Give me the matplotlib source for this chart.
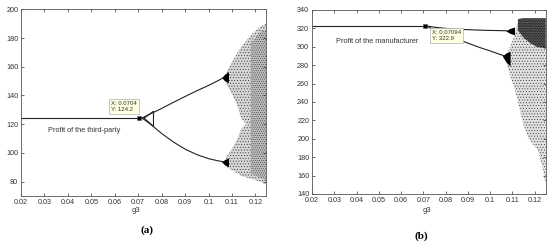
import matplotlib
matplotlib.use("Agg")
import matplotlib.pyplot as plt

plt.rcParams['font.family'] = ['Liberation Sans', 'DejaVu Sans']
plt.rcParams['hatch.linewidth'] = 0.35

# ---------------- Panel (a): profit of the third-party ----------------
a_flat_x = [0.02, 0.0704]
a_flat_y = [124.2, 124.2]
a_up_x = [0.0704, 0.072, 0.074, 0.077, 0.080, 0.085, 0.090, 0.095, 0.100, 0.104, 0.1065]
a_up_y = [124.2, 124.6, 126.3, 128.6, 131.0, 135.2, 139.3, 143.3, 147.0, 150.3, 152.5]
a_lo_x = [0.0704, 0.072, 0.074, 0.077, 0.080, 0.085, 0.090, 0.095, 0.100, 0.104, 0.1065]
a_lo_y = [124.2, 123.8, 121.5, 117.6, 113.5, 107.6, 102.6, 98.8, 96.0, 94.5, 93.8]
a_tri_x = [0.0725, 0.0765, 0.0765, 0.0725]
a_tri_y = [124.2, 129.0, 118.5, 124.2]
# dense wedges (blobs) at the second bifurcation
a_blobU_x = [0.1055, 0.107, 0.1085]
a_blobU_lo = [152.5, 150.0, 149.0]
a_blobU_hi = [152.5, 155.0, 156.5]
a_blobL_x = [0.1055, 0.107, 0.1085]
a_blobL_lo = [93.8, 91.5, 90.5]
a_blobL_hi = [93.8, 95.5, 96.5]
# chaotic band envelopes
a_ch_x = [0.1075, 0.110, 0.112, 0.114, 0.116, 0.118, 0.120, 0.122, 0.1245]
a_ch_hi = [156, 163, 169, 174, 178, 182, 185, 188, 190]
a_ch_gapU = [148, 141, 134, 124, 120, 120, 120, 120, 120]
a_ch_gapL = [97, 103, 109, 117, 120, 120, 120, 120, 120]
a_ch_lo = [90, 88, 86, 84, 83, 82, 81, 80, 78]
# denser part near the right edge
a_dense_x = [0.118, 0.120, 0.122, 0.1245]
a_dense_hi = [176, 180, 184, 186]
a_dense_lo = [86, 84, 83, 81]

# ---------------- Panel (b): profit of the manufacturer ----------------
b_flat_x = [0.02, 0.07094]
b_flat_y = [322.9, 322.9]
b_up_x = [0.07094, 0.075, 0.080, 0.085, 0.090, 0.095, 0.100, 0.1075]
b_up_y = [322.9, 321.3, 320.0, 319.2, 318.6, 318.1, 317.8, 317.4]
b_lo_x = [0.07094, 0.075, 0.080, 0.085, 0.090, 0.095, 0.100, 0.1065]
b_lo_y = [322.9, 318.5, 313.5, 308.5, 304.0, 299.5, 295.5, 290.0]
b_blobU_x = [0.107, 0.109, 0.111]
b_blobU_lo = [317.4, 314.5, 313.0]
b_blobU_hi = [317.4, 320.0, 321.5]
b_blobL_x = [0.1055, 0.107, 0.109]
b_blobL_lo = [290.0, 284.0, 279.0]
b_blobL_hi = [290.0, 293.0, 295.0]
b_ch_x = [0.1075, 0.109, 0.111, 0.113, 0.115, 0.117, 0.119, 0.1215, 0.1235, 0.125]
b_ch_hi = [292, 300, 312, 331, 331, 331, 331, 331, 331, 331]
b_ch_lo = [282, 268, 255, 235, 215, 201, 195, 187, 170, 150]
b_dark_x = [0.1125, 0.115, 0.118, 0.121, 0.125]
b_dark_hi = [330, 331, 331, 331, 331]
b_dark_lo = [318, 310, 304, 300, 298]

fig = plt.figure(figsize=(5.5, 2.47), dpi=100)
axA = fig.add_axes([0.0382, 0.2065, 0.4455, 0.7558])
axB = fig.add_axes([0.5673, 0.2146, 0.4249, 0.7450])

lc = '#222222'
lw = 0.8

def style(ax):
    ax.tick_params(direction='in', labelsize=5.2, length=2.5, width=0.5,
                   top=True, right=True, pad=2, colors='#333333')
    for s in ax.spines.values():
        s.set_color('#555555')
        s.set_linewidth(0.6)

def stipple(ax, x, lo, hi, hatch, shade, ec='#333333'):
    ax.fill_between(x, lo, hi, facecolor=shade, edgecolor='none', lw=0)
    ax.fill_between(x, lo, hi, facecolor='none', edgecolor=ec,
                    hatch=hatch, linewidth=0)

# ---- (a)
axA.plot(a_flat_x, a_flat_y, color=lc, lw=lw)
axA.plot(a_up_x, a_up_y, color=lc, lw=lw)
axA.plot(a_lo_x, a_lo_y, color=lc, lw=lw)
axA.plot(a_tri_x, a_tri_y, color=lc, lw=lw)
stipple(axA, a_ch_x, a_ch_gapU, a_ch_hi, '......', '#d6d6d6')
stipple(axA, a_ch_x, a_ch_lo, a_ch_gapL, '......', '#d6d6d6')
stipple(axA, a_dense_x, a_dense_lo, a_dense_hi, '........', '#bdbdbd')
axA.fill_between(a_blobU_x, a_blobU_lo, a_blobU_hi, color='black', lw=0)
axA.fill_between(a_blobL_x, a_blobL_lo, a_blobL_hi, color='black', lw=0)
axA.plot([0.0704], [124.2], 's', color='black', ms=3.5, mec='#555555', mew=0.4)
axA.text(0.0585, 132.5, 'X: 0.0704\nY: 124.2', fontsize=4.3, va='center', ha='left',
         linespacing=1.3, color='#333333',
         bbox=dict(boxstyle='square,pad=0.35', fc='#ffffe1', ec='#b0b0b0', lw=0.5))
axA.text(0.0317, 115.5, 'Profit of the third-party', fontsize=5.3, color='#333333', va='center')
axA.set_xlim(0.02, 0.1245)
axA.set_ylim(70, 200)
axA.set_xticks([0.02, 0.03, 0.04, 0.05, 0.06, 0.07, 0.08, 0.09, 0.1, 0.11, 0.12])
axA.set_xticklabels(['0.02', '0.03', '0.04', '0.05', '0.06', '0.07', '0.08', '0.09', '0.1', '0.11', '0.12'])
axA.set_yticks([80, 100, 120, 140, 160, 180, 200])
style(axA)

# ---- (b)
axB.plot(b_flat_x, b_flat_y, color=lc, lw=lw)
axB.plot(b_up_x, b_up_y, color=lc, lw=lw)
axB.plot(b_lo_x, b_lo_y, color=lc, lw=lw)
stipple(axB, b_ch_x, b_ch_lo, b_ch_hi, '......', '#e0e0e0')
stipple(axB, b_dark_x, b_dark_lo, b_dark_hi, '..........', '#555555', ec='black')
axB.fill_between(b_blobU_x, b_blobU_lo, b_blobU_hi, color='black', lw=0)
axB.fill_between(b_blobL_x, b_blobL_lo, b_blobL_hi, color='black', lw=0)
axB.plot([0.07094], [322.9], 's', color='black', ms=3.5, mec='#555555', mew=0.4)
axB.text(0.0738, 312.0, 'X: 0.07094\nY: 322.9', fontsize=4.3, va='center', ha='left',
         linespacing=1.3, color='#333333',
         bbox=dict(boxstyle='square,pad=0.35', fc='#ffffe1', ec='#b0b0b0', lw=0.5))
axB.text(0.0306, 306, 'Profit of the manufacturer', fontsize=5.3, color='#333333', va='center')
axB.set_xlim(0.02, 0.125)
axB.set_ylim(140, 340)
axB.set_xticks([0.02, 0.03, 0.04, 0.05, 0.06, 0.07, 0.08, 0.09, 0.1, 0.11, 0.12])
axB.set_xticklabels(['0.02', '0.03', '0.04', '0.05', '0.06', '0.07', '0.08', '0.09', '0.1', '0.11', '0.12'])
axB.set_yticks(list(range(140, 341, 20)))
style(axB)

fig.text(136 / 550, 1 - 210 / 247, 'g3', fontsize=5.5, ha='center', va='center', color='#333333')
fig.text(426.7 / 550, 1 - 210.7 / 247, 'g3', fontsize=5.5, ha='center', va='center', color='#333333')
fig.text(146.7 / 550, 1 - 230 / 247, '(a)', fontsize=8, ha='center', va='center',
         family='Liberation Serif', fontweight='bold')
fig.text(421.7 / 550, 1 - 236 / 247, '(b)', fontsize=8, ha='center', va='center',
         family='Liberation Serif', fontweight='bold')

fig.savefig('out.png', dpi=100)
